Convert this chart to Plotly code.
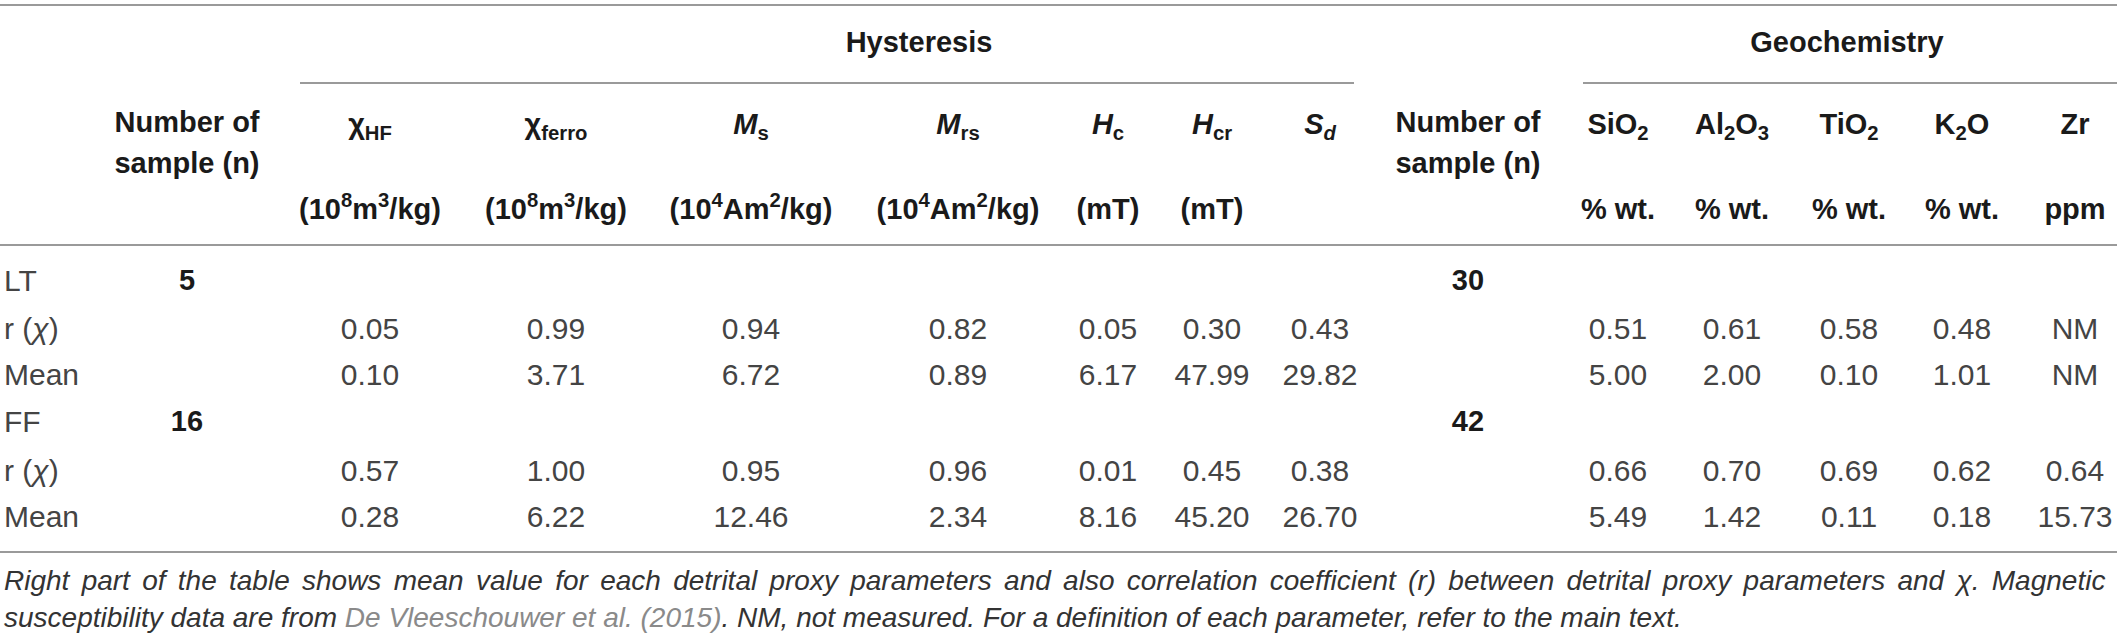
import plotly.graph_objects as go

# --- table content -------------------------------------------------------
groups = ["Hysteresis", "Geochemistry"]

col_names = ["Number of<br>sample (n)",
             "χ<sub>HF</sub>", "χ<sub>ferro</sub>",
             "<i>M</i><sub>s</sub>", "<i>M</i><sub>rs</sub>",
             "<i>H</i><sub>c</sub>", "<i>H</i><sub>cr</sub>", "<i>S</i><sub><i>d</i></sub>",
             "Number of<br>sample (n)",
             "SiO<sub>2</sub>", "Al<sub>2</sub>O<sub>3</sub>", "TiO<sub>2</sub>",
             "K<sub>2</sub>O", "Zr"]
col_units = ["",
             "(10<sup>8</sup>m<sup>3</sup>/kg)", "(10<sup>8</sup>m<sup>3</sup>/kg)",
             "(10<sup>4</sup>Am<sup>2</sup>/kg)", "(10<sup>4</sup>Am<sup>2</sup>/kg)",
             "(mT)", "(mT)", "",
             "",
             "% wt.", "% wt.", "% wt.", "% wt.", "ppm"]

row_labels = ["LT", "r (<i>χ</i>)", "Mean", "FF", "r (<i>χ</i>)", "Mean"]

n_hyst = [5, 16]
n_geo = [30, 42]

# hysteresis: χHF, χferro, Ms, Mrs, Hc, Hcr, Sd
hyst_r_LT = [0.05, 0.99, 0.94, 0.82, 0.05, 0.30, 0.43]
hyst_mean_LT = [0.10, 3.71, 6.72, 0.89, 6.17, 47.99, 29.82]
hyst_r_FF = [0.57, 1.00, 0.95, 0.96, 0.01, 0.45, 0.38]
hyst_mean_FF = [0.28, 6.22, 12.46, 2.34, 8.16, 45.20, 26.70]

# geochemistry: SiO2, Al2O3, TiO2, K2O, Zr  (None = not measured)
geo_r_LT = [0.51, 0.61, 0.58, 0.48, None]
geo_mean_LT = [5.00, 2.00, 0.10, 1.01, None]
geo_r_FF = [0.66, 0.70, 0.69, 0.62, 0.64]
geo_mean_FF = [5.49, 1.42, 0.11, 0.18, 15.73]

caption = [
    "Right part of the table shows mean value for each detrital proxy parameters and also "
    "correlation coefficient (r) between detrital proxy parameters and χ. Magnetic",
    "susceptibility data are from <span style='color:#8a8a8a'>De Vleeschouwer et al. (2015)</span>. "
    "NM, not measured. For a definition of each parameter, refer to the main text.",
]

# --- layout (pixels) -------------------------------------------------------
W, H = 2117, 639
COL_X = [187, 370, 556, 751, 958, 1108, 1212, 1320, 1468,
         1618, 1732, 1849, 1962, 2075]
GROUP_X = [919, 1847]
GROUP_LINE = [(300, 1354), (1583, W)]
Y_GROUP, Y_GROUP_LINE = 45, 83
Y_NAME, Y_NAME2 = (125, 166), 127
Y_UNIT = 212
ROW_Y = [283, 331, 377, 424, 473, 519]
Y_RULES = [5, 245, 552]
CAP_Y = [583, 620]
LABEL_X = 4

SANS = "Liberation Sans, Arial, sans-serif"
HEAD_FONT = dict(family=SANS, size=29, color="#1a1a1a")
BODY_FONT = dict(family=SANS, size=30, color="#444444")
CAP_FONT = dict(family=SANS, size=28, color="#333333")
CAP_SPACING = ["4.5px", "0px"]   # first line is justified in the source
RULE = dict(color="#9a9a9a", width=2)


def fmt(v):
    return "NM" if v is None else f"{v:.2f}"


fig = go.Figure()


def text(xs, ys, labels, font, pos="middle center"):
    fig.add_trace(go.Scatter(x=xs, y=ys, text=labels, mode="text",
                             textposition=pos, textfont=font,
                             hoverinfo="skip", showlegend=False, cliponaxis=False))


# group headers
text(GROUP_X, [Y_GROUP] * len(groups), [f"<b>{g}</b>" for g in groups], HEAD_FONT)

# column names and units
nx, ny, nt = [], [], []
for x, name in zip(COL_X, col_names):
    parts = name.split("<br>")
    if len(parts) == 2:
        for y, p in zip(Y_NAME, parts):
            nx.append(x); ny.append(y); nt.append(f"<b>{p}</b>")
    else:
        nx.append(x); ny.append(Y_NAME2); nt.append(f"<b>{name}</b>")
text(nx, ny, nt, HEAD_FONT)
ux = [x for x, u in zip(COL_X, col_units) if u]
text(ux, [Y_UNIT] * len(ux), [f"<b>{u}</b>" for u in col_units if u], HEAD_FONT)

# row labels
text([LABEL_X] * len(row_labels), ROW_Y, row_labels, BODY_FONT, pos="middle right")

# sample counts (bold)
text([COL_X[0]] * 2, [ROW_Y[0], ROW_Y[3]], [f"<b>{n}</b>" for n in n_hyst], HEAD_FONT)
text([COL_X[8]] * 2, [ROW_Y[0], ROW_Y[3]], [f"<b>{n}</b>" for n in n_geo], HEAD_FONT)

# values
hx = COL_X[1:8]
gx = COL_X[9:14]
for row, hv, gv in [(1, hyst_r_LT, geo_r_LT), (2, hyst_mean_LT, geo_mean_LT),
                    (4, hyst_r_FF, geo_r_FF), (5, hyst_mean_FF, geo_mean_FF)]:
    text(hx + gx, [ROW_Y[row]] * (len(hx) + len(gx)),
         [fmt(v) for v in hv] + [fmt(v) for v in gv], BODY_FONT)

# caption
text([LABEL_X] * len(caption), CAP_Y,
     [f"<span style='word-spacing:{s}'><i>{c}</i></span>" for c, s in zip(caption, CAP_SPACING)],
     CAP_FONT, pos="middle right")

# rules
for y in Y_RULES:
    fig.add_shape(type="line", x0=0, x1=W, y0=y, y1=y, line=RULE, layer="below")
for x0, x1 in GROUP_LINE:
    fig.add_shape(type="line", x0=x0, x1=x1, y0=Y_GROUP_LINE, y1=Y_GROUP_LINE,
                  line=RULE, layer="below")

fig.update_layout(
    width=W, height=H,
    margin=dict(l=0, r=0, t=0, b=0),
    paper_bgcolor="white", plot_bgcolor="white",
    xaxis=dict(range=[0, W], visible=False, fixedrange=True),
    yaxis=dict(range=[H, 0], visible=False, fixedrange=True),
)

# page body margin would otherwise push the 2117x639 figure out of the window
fig.write_html("out.html", config={"displayModeBar": False},
               post_script="document.body.style.margin='0';document.body.style.overflow='hidden';")
